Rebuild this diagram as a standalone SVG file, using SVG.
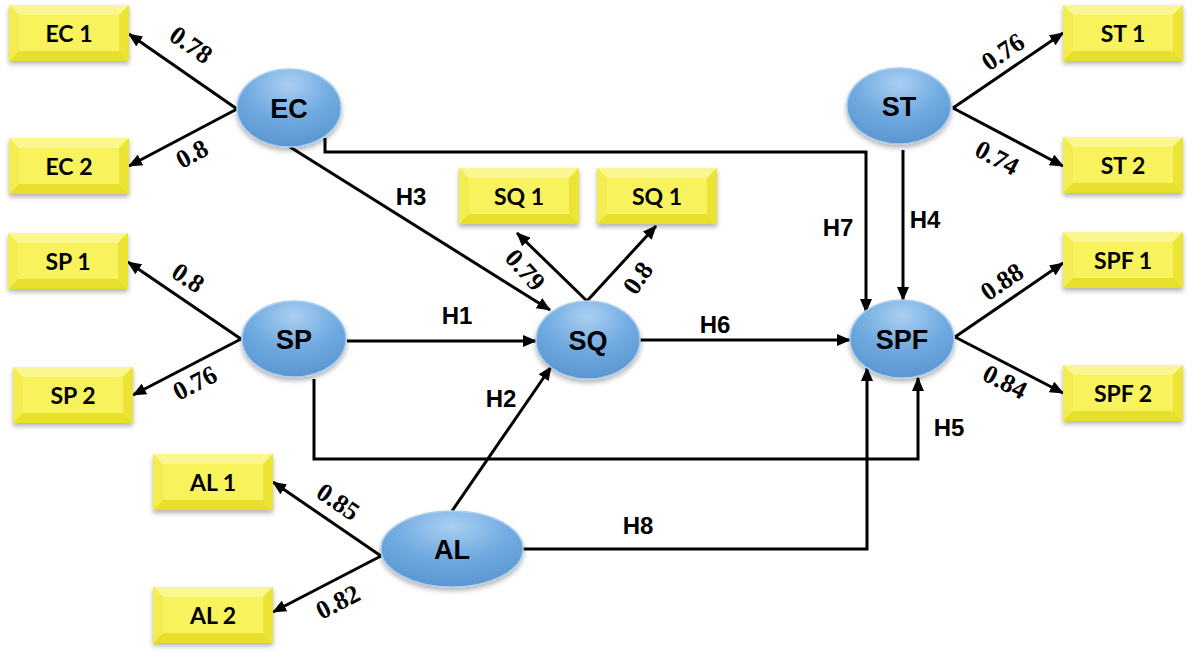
<svg xmlns="http://www.w3.org/2000/svg" xmlns:xlink="http://www.w3.org/1999/xlink" width="1192" height="659" viewBox="0 0 1192 659">
<style>
.box-t{font-family:"Lato","Liberation Sans",sans-serif;font-weight:bold;font-size:23px;fill:#000;text-anchor:middle;dominant-baseline:central}
.lv-t{font-family:"Liberation Sans",Arial,sans-serif;font-weight:bold;font-size:27px;fill:#000;text-anchor:middle;dominant-baseline:central}
.h-t{font-family:"Liberation Sans",Arial,sans-serif;font-weight:bold;font-size:24px;fill:#000;text-anchor:middle;dominant-baseline:central}
.w-t{font-family:"Liberation Serif","Times New Roman",serif;font-weight:bold;font-size:26px;fill:#000;text-anchor:middle;dominant-baseline:central}
.con path{fill:none;stroke:#000;stroke-width:3;marker-end:url(#arr)}
.lv{fill:url(#blue);stroke:#a9cdee;stroke-width:1.5;filter:url(#sh)}
</style>
<defs>
<marker id="arr" markerUnits="userSpaceOnUse" markerWidth="14" markerHeight="12" refX="13" refY="6" orient="auto">
<path d="M0,0 L14,6 L0,12 z" fill="#000"/>
</marker>
<radialGradient id="blue" cx="0.5" cy="0.2" r="0.85">
<stop offset="0" stop-color="#a9cff2"/>
<stop offset="0.5" stop-color="#70aae0"/>
<stop offset="1" stop-color="#5893cf"/>
</radialGradient>
<filter id="sh" x="-20%" y="-20%" width="140%" height="150%">
<feDropShadow dx="0" dy="3" stdDeviation="2.5" flood-color="#000" flood-opacity="0.3"/>
</filter>
<g id="box">
<g filter="url(#sh)">
<rect x="0" y="0" width="120" height="56" fill="#f2ec3e"/>
</g>
<polygon points="0,0 120,0 110,10 10,10" fill="#fbf790"/>
<polygon points="0,56 120,56 110,46 10,46" fill="#e6df2c"/>
<polygon points="0,0 10,10 10,46 0,56" fill="#f3ed52"/>
<polygon points="120,0 110,10 110,46 120,56" fill="#ebe434"/>
<rect x="10" y="10" width="100" height="36" fill="#f8f35c"/>
</g>
</defs>
<rect width="1192" height="659" fill="#fff"/>

<g id="connectors" class="con">
<path d="M237,109 L129,34"/>
<path d="M237,109 L129,166"/>
<path d="M241,339 L128,262"/>
<path d="M241,339 L133,395"/>
<path d="M381,556 L273,482"/>
<path d="M381,556 L273,612"/>
<path d="M953,108 L1063,33"/>
<path d="M953,108 L1063,166"/>
<path d="M955,337 L1063,263"/>
<path d="M955,337 L1063,393"/>
<path d="M587,301 L517,233"/>
<path d="M587,301 L656,226"/>
<path d="M290,147 L550,310"/>
<path d="M325,138 V152 H866 V312"/>
<path d="M903,150 V300"/>
<path d="M347,341 H536"/>
<path d="M640,340 H850"/>
<path d="M452,511 L551,367"/>
<path d="M314,379 V459 H918 V378"/>
<path d="M523,549 H867 V368"/>
</g>

<g id="labels">
<text class="w-t" transform="translate(191,45) rotate(35)">0.78</text>
<text class="w-t" transform="translate(192,154) rotate(-28)">0.8</text>
<text class="w-t" transform="translate(188,278) rotate(34)">0.8</text>
<text class="w-t" transform="translate(195,383) rotate(-27)">0.76</text>
<text class="w-t" transform="translate(338,502) rotate(34)">0.85</text>
<text class="w-t" transform="translate(338,602) rotate(-27)">0.82</text>
<text class="w-t" transform="translate(1003,52) rotate(-34)">0.76</text>
<text class="w-t" transform="translate(997,158) rotate(28)">0.74</text>
<text class="w-t" transform="translate(1002,282) rotate(-34)">0.88</text>
<text class="w-t" transform="translate(1005,382) rotate(27)">0.84</text>
<text class="w-t" transform="translate(525,270) rotate(48)">0.79</text>
<text class="w-t" transform="translate(638,278) rotate(-55)">0.8</text>
<text class="h-t" x="411" y="196">H3</text>
<text class="h-t" x="838" y="227">H7</text>
<text class="h-t" x="925" y="219">H4</text>
<text class="h-t" x="457" y="315">H1</text>
<text class="h-t" x="715" y="324">H6</text>
<text class="h-t" x="501" y="398">H2</text>
<text class="h-t" x="949" y="427">H5</text>
<text class="h-t" x="638" y="525">H8</text>
</g>

<g id="EC1"><use xlink:href="#box" x="9" y="5"/><text class="box-t" x="69" y="33">EC 1</text></g>
<g id="EC2"><use xlink:href="#box" x="9" y="138"/><text class="box-t" x="69" y="166">EC 2</text></g>
<g id="SP1"><use xlink:href="#box" x="8" y="233"/><text class="box-t" x="68" y="261">SP 1</text></g>
<g id="SP2"><use xlink:href="#box" x="13" y="367"/><text class="box-t" x="73" y="395">SP 2</text></g>
<g id="AL1"><use xlink:href="#box" x="153" y="454"/><text class="box-t" x="213" y="482">AL 1</text></g>
<g id="AL2"><use xlink:href="#box" x="153" y="587"/><text class="box-t" x="213" y="615">AL 2</text></g>
<g id="SQ1a"><use xlink:href="#box" x="459" y="168"/><text class="box-t" x="519" y="196">SQ 1</text></g>
<g id="SQ1b"><use xlink:href="#box" x="597" y="168"/><text class="box-t" x="657" y="196">SQ 1</text></g>
<g id="ST1"><use xlink:href="#box" x="1063" y="5"/><text class="box-t" x="1123" y="33">ST 1</text></g>
<g id="ST2"><use xlink:href="#box" x="1063" y="137"/><text class="box-t" x="1123" y="165">ST 2</text></g>
<g id="SPF1"><use xlink:href="#box" x="1063" y="232"/><text class="box-t" x="1123" y="260">SPF 1</text></g>
<g id="SPF2"><use xlink:href="#box" x="1063" y="365"/><text class="box-t" x="1123" y="393">SPF 2</text></g>

<g id="EC"><ellipse class="lv" cx="289" cy="108" rx="52" ry="39"/><text class="lv-t" x="289" y="109">EC</text></g>
<g id="SP"><ellipse class="lv" cx="294" cy="339" rx="52" ry="38"/><text class="lv-t" x="294" y="340">SP</text></g>
<g id="SQ"><ellipse class="lv" cx="588" cy="340" rx="52" ry="39"/><text class="lv-t" x="588" y="341">SQ</text></g>
<g id="AL"><ellipse class="lv" cx="452" cy="549" rx="71" ry="38"/><text class="lv-t" x="452" y="550">AL</text></g>
<g id="ST"><ellipse class="lv" cx="899" cy="106" rx="52" ry="38"/><text class="lv-t" x="899" y="107">ST</text></g>
<g id="SPF"><ellipse class="lv" cx="902" cy="339" rx="52" ry="39"/><text class="lv-t" x="902" y="340">SPF</text></g>
</svg>
